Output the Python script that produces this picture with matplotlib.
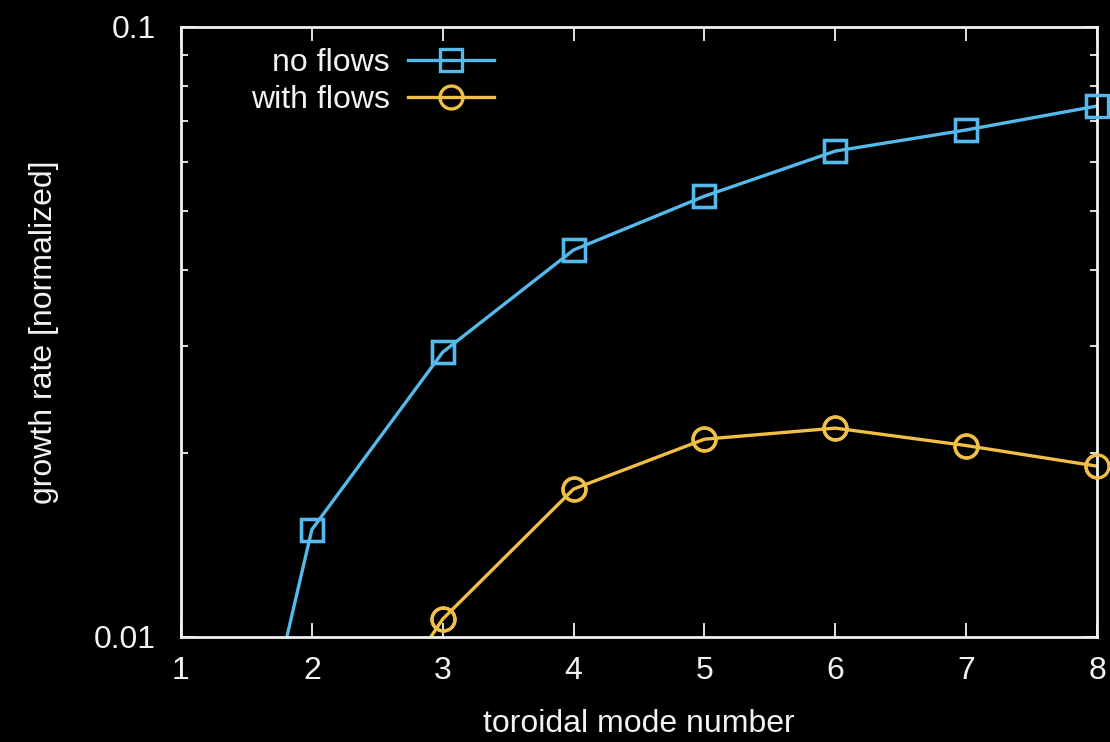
import matplotlib
matplotlib.use("Agg")
import matplotlib.pyplot as plt
from matplotlib.ticker import FixedLocator, NullFormatter, FixedFormatter

plt.rcParams['font.family'] = ['Liberation Sans', 'DejaVu Sans']

mode_no_flows = [1, 2, 3, 4, 5, 6, 7, 8]
rate_no_flows = [0.0018, 0.0150, 0.0293, 0.0431, 0.0528, 0.0626, 0.0678, 0.0742]
mode_with_flows = [2, 3, 4, 5, 6, 7, 8]
rate_with_flows = [0.0051, 0.0107, 0.01748, 0.0211, 0.0220, 0.0206, 0.01906]

x_ticks = [1, 2, 3, 4, 5, 6, 7, 8]
y_major = [0.01, 0.1]
y_major_labels = ['0.01', '0.1']
y_minor = [0.02, 0.03, 0.04, 0.05, 0.06, 0.07, 0.08, 0.09]

blue = '#56b9ec'
orange = '#f0bf45'
fg = '#f2f2f2'

fig = plt.figure(figsize=(11.10, 7.42), dpi=100, facecolor='black')
ax = fig.add_axes([181/1110, 1 - 637/742, (1097-181)/1110, (637-27)/742])
ax.set_facecolor('black')
ylo, yhi = 0.01, 0.1

series = [
    (mode_no_flows, rate_no_flows, blue, 's', 15.5, 'no flows'),
    (mode_with_flows, rate_with_flows, orange, 'o', 16.5, 'with flows'),
]
for xs, ys, col, mk, ms, lab in series:
    # line clipped to the axes, markers fully drawn for in-range points
    ax.plot(xs, ys, color=col, lw=2.4, marker=mk, ms=ms, mfc='none', mec=col,
            mew=2.4, label=lab)
    xin = [x for x, y in zip(xs, ys) if ylo <= y <= yhi]
    yin = [y for y in ys if ylo <= y <= yhi]
    ax.plot(xin, yin, linestyle='none', marker=mk, ms=ms, mfc='none', mec=col,
            mew=2.4, clip_on=False, zorder=3)

ax.set_yscale('log')
ax.set_xlim(1, 8)
ax.set_ylim(ylo, yhi)

ax.xaxis.set_major_locator(FixedLocator(x_ticks))
ax.yaxis.set_major_locator(FixedLocator(y_major))
ax.yaxis.set_major_formatter(FixedFormatter(y_major_labels))
ax.yaxis.set_minor_locator(FixedLocator(y_minor))
ax.yaxis.set_minor_formatter(NullFormatter())
ax.xaxis.set_minor_locator(FixedLocator([]))

ax.tick_params(axis='both', which='major', direction='in', length=10, width=1.3,
               colors=fg, labelsize=23, top=True, right=True)
ax.tick_params(axis='y', which='minor', direction='in', length=5, width=1.3,
               colors=fg, left=True, right=True)
ax.tick_params(axis='x', which='major', pad=14)
ax.tick_params(axis='y', which='major', pad=18)

for s in ax.spines.values():
    s.set_color(fg)
    s.set_linewidth(2)

ax.set_xlabel('toroidal mode number', color=fg, fontsize=23, labelpad=16)
ax.set_ylabel('growth rate [normalized]', color=fg, fontsize=23, labelpad=25)

leg = ax.legend(loc='upper left', bbox_to_anchor=(0.054, 1.0), frameon=False,
                fontsize=23, markerfirst=False, handlelength=2.7, handletextpad=0.55,
                labelspacing=0.22, borderaxespad=0.25)
for t in leg.get_texts():
    t.set_color(fg)

fig.savefig('out.png', dpi=100, facecolor='black')
